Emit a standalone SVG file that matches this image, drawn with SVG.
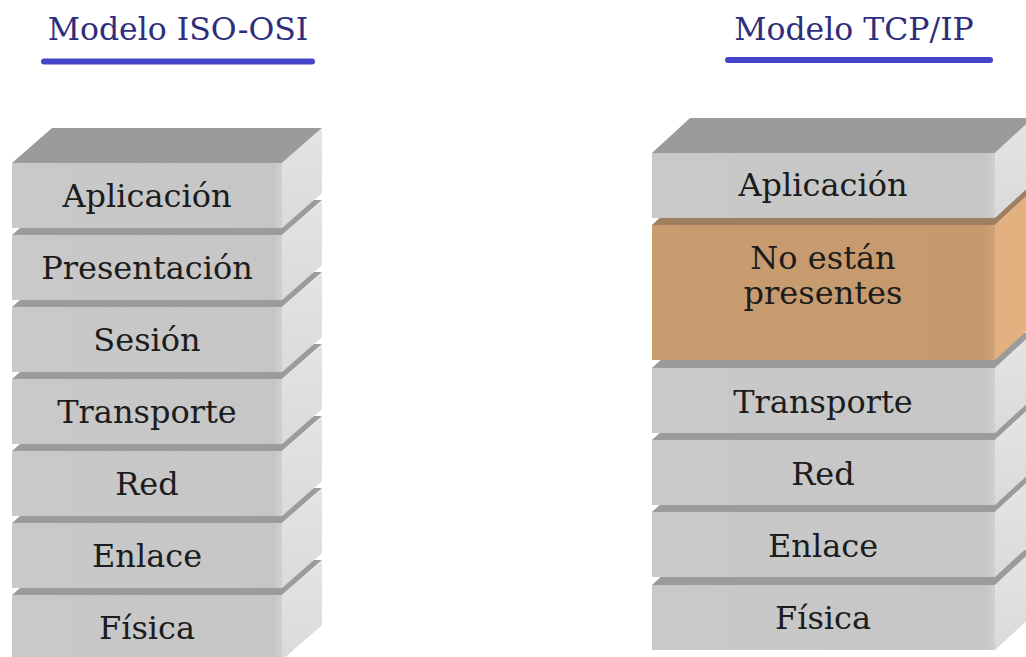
<svg xmlns="http://www.w3.org/2000/svg" width="1026" height="657" viewBox="0 0 1026 657">
  <style>
    .front { fill: url(#gFront); }
    .top { fill: #9b9b9b; }
    .side { fill: url(#gSide); }
    .frontO { fill: url(#gFrontO); }
    .topO { fill: #a07f60; }
    .sideO { fill: #e3b07f; }
    .lbl { font-family: "DejaVu Serif", "Liberation Serif", serif; font-size: 32px; fill: #1c1c1c; text-anchor: middle; }
    .title { font-family: "DejaVu Serif", "Liberation Serif", serif; font-size: 31.5px; fill: #2e2e7c; text-anchor: middle; }
    .rule { stroke: #4545c9; stroke-width: 6; stroke-linecap: round; }
  </style>
  <defs>
    <linearGradient id="gFront" x1="0" y1="0" x2="1" y2="0">
      <stop offset="0" stop-color="#c9c9c9"/>
      <stop offset="0.97" stop-color="#c6c6c6"/>
      <stop offset="1" stop-color="#d0d0d0"/>
    </linearGradient>
    <linearGradient id="gFrontO" x1="0" y1="0" x2="1" y2="0">
      <stop offset="0" stop-color="#c99c70"/>
      <stop offset="0.97" stop-color="#c69a6e"/>
      <stop offset="1" stop-color="#d0a579"/>
    </linearGradient>
    <linearGradient id="gSide" x1="0" y1="0" x2="0" y2="1">
      <stop offset="0" stop-color="#e4e4e4"/>
      <stop offset="1" stop-color="#dadada"/>
    </linearGradient>
  </defs>
  <rect width="1026" height="657" fill="#ffffff"/>

  <!-- Titles -->
  <g id="title-osi">
    <text class="title" x="178" y="40">Modelo ISO-OSI</text>
    <line class="rule" x1="44" y1="61.5" x2="312" y2="61.5"/>
  </g>
  <g id="title-tcp">
    <text class="title" x="854" y="40">Modelo TCP/IP</text>
    <line class="rule" x1="728" y1="60" x2="990" y2="60"/>
  </g>

  <!-- ISO-OSI stack (x0=12, w=270, depth 40/35, h=65), drawn bottom-up -->
  <g id="osi-fisica">
    <polygon class="top" points="12,595 282,595 322,560 52,560"/>
    <polygon class="side" points="282,595 322,560 322,625 282,660"/>
    <rect class="front" x="12" y="595" width="270" height="65"/>
    <text class="lbl" x="147" y="639">Física</text>
  </g>
  <g id="osi-enlace">
    <polygon class="top" points="12,523 282,523 322,488 52,488"/>
    <polygon class="side" points="282,523 322,488 322,553 282,588"/>
    <rect class="front" x="12" y="523" width="270" height="65"/>
    <text class="lbl" x="147" y="567">Enlace</text>
  </g>
  <g id="osi-red">
    <polygon class="top" points="12,451 282,451 322,416 52,416"/>
    <polygon class="side" points="282,451 322,416 322,481 282,516"/>
    <rect class="front" x="12" y="451" width="270" height="65"/>
    <text class="lbl" x="147" y="495">Red</text>
  </g>
  <g id="osi-transporte">
    <polygon class="top" points="12,379 282,379 322,344 52,344"/>
    <polygon class="side" points="282,379 322,344 322,409 282,444"/>
    <rect class="front" x="12" y="379" width="270" height="65"/>
    <text class="lbl" x="147" y="423">Transporte</text>
  </g>
  <g id="osi-sesion">
    <polygon class="top" points="12,307 282,307 322,272 52,272"/>
    <polygon class="side" points="282,307 322,272 322,337 282,372"/>
    <rect class="front" x="12" y="307" width="270" height="65"/>
    <text class="lbl" x="147" y="351">Sesión</text>
  </g>
  <g id="osi-presentacion">
    <polygon class="top" points="12,235 282,235 322,200 52,200"/>
    <polygon class="side" points="282,235 322,200 322,265 282,300"/>
    <rect class="front" x="12" y="235" width="270" height="65"/>
    <text class="lbl" x="147" y="279">Presentación</text>
  </g>
  <g id="osi-aplicacion">
    <polygon class="top" points="12,163 282,163 322,128 52,128"/>
    <polygon class="side" points="282,163 322,128 322,193 282,228"/>
    <rect class="front" x="12" y="163" width="270" height="65"/>
    <text class="lbl" x="147" y="207">Aplicación</text>
  </g>

  <!-- TCP/IP stack (x0=652, w=343, depth 38/35, h=65), drawn bottom-up -->
  <g id="tcp-fisica">
    <polygon class="top" points="652,585 995,585 1033,550 690,550"/>
    <polygon class="side" points="995,585 1033,550 1033,615 995,650"/>
    <rect class="front" x="652" y="585" width="343" height="65"/>
    <text class="lbl" x="823" y="629">Física</text>
  </g>
  <g id="tcp-enlace">
    <polygon class="top" points="652,512 995,512 1033,477 690,477"/>
    <polygon class="side" points="995,512 1033,477 1033,542 995,577"/>
    <rect class="front" x="652" y="512" width="343" height="65"/>
    <text class="lbl" x="823" y="557">Enlace</text>
  </g>
  <g id="tcp-red">
    <polygon class="top" points="652,440 995,440 1033,405 690,405"/>
    <polygon class="side" points="995,440 1033,405 1033,470 995,505"/>
    <rect class="front" x="652" y="440" width="343" height="65"/>
    <text class="lbl" x="823" y="485">Red</text>
  </g>
  <g id="tcp-transporte">
    <polygon class="top" points="652,368 995,368 1033,333 690,333"/>
    <polygon class="side" points="995,368 1033,333 1033,398 995,433"/>
    <rect class="front" x="652" y="368" width="343" height="65"/>
    <text class="lbl" x="823" y="413">Transporte</text>
  </g>
  <g id="tcp-ausentes">
    <polygon class="topO" points="652,225 995,225 1033,190 690,190"/>
    <polygon class="sideO" points="995,225 1033,190 1033,325 995,360"/>
    <rect class="frontO" x="652" y="225" width="343" height="135"/>
    <text class="lbl" x="823" y="269">No están</text>
    <text class="lbl" x="823" y="304">presentes</text>
  </g>
  <g id="tcp-aplicacion">
    <polygon class="top" points="652,153 995,153 1033,118 690,118"/>
    <polygon class="side" points="995,153 1033,118 1033,183 995,218"/>
    <rect class="front" x="652" y="153" width="343" height="65"/>
    <text class="lbl" x="823" y="196">Aplicación</text>
  </g>
</svg>
